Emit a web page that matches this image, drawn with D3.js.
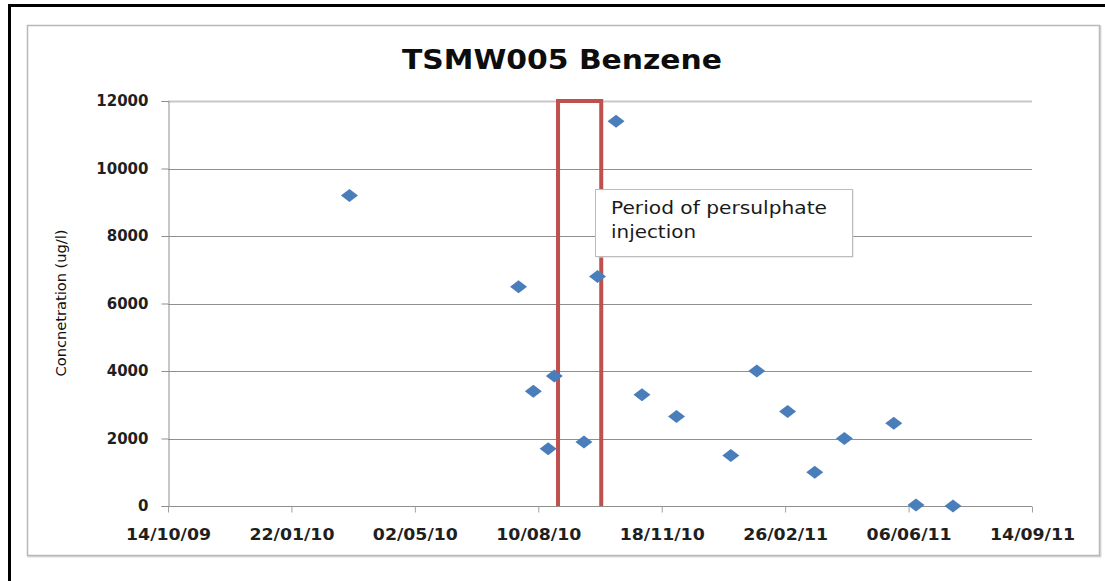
<!DOCTYPE html>
<html>
<head>
<meta charset="utf-8">
<script src="https://cdn.jsdelivr.net/npm/d3@7"></script>
<style>
html,body{margin:0;padding:0;background:#fff;}
svg{display:block;}
</style>
</head>
<body>
<svg id="chart" width="1105" height="581"></svg>
<script>
// ---- data ----
const sampleDates = ["2010-03-10","2010-07-25","2010-08-06","2010-08-18","2010-08-23","2010-09-16","2010-09-27","2010-10-12","2010-11-02","2010-11-30","2011-01-13","2011-02-03","2011-02-28","2011-03-22","2011-04-15","2011-05-25","2011-06-12","2011-07-12"];
const benzene = [9200,6500,3400,1700,3850,1900,6800,11400,3300,2650,1500,4000,2800,1000,2000,2450,30,0];
const xTickDates = ["2009-10-14","2010-01-22","2010-05-02","2010-08-10","2010-11-18","2011-02-26","2011-06-06","2011-09-14"];
const xTickLabels = ["14/10/09","22/01/10","02/05/10","10/08/10","18/11/10","26/02/11","06/06/11","14/09/11"];
const yTicks = [0,2000,4000,6000,8000,10000,12000];
const injectionPeriod = ["2010-08-26","2010-09-30"];
const titleText = "TSMW005 Benzene";
const yTitle = "Concnetration (ug/l)";
const noteLines = ["Period of persulphate","injection"];

const parse = d3.utcParse("%Y-%m-%d");
const svg = d3.select("#chart");

// outer frame
svg.append("line").attr("x1",9.5).attr("x2",9.5).attr("y1",4).attr("y2",581).attr("stroke","#000").attr("stroke-width",3);
svg.append("line").attr("x1",8).attr("x2",1105).attr("y1",5.5).attr("y2",5.5).attr("stroke","#000").attr("stroke-width",3);
// chart area border with slight shadow
svg.append("rect").attr("x",28.5).attr("y",26.5).attr("width",1072).attr("height",530).attr("fill","none").attr("stroke","#d9d9d9").attr("stroke-width",2);
svg.append("rect").attr("x",27.5).attr("y",25.5).attr("width",1072).attr("height",530).attr("fill","#fff").attr("stroke","#b8b8b8").attr("stroke-width",1.5);

const x = d3.scaleUtc().domain([parse(xTickDates[0]), parse(xTickDates[xTickDates.length-1])]).range([168,1032]);
const y = d3.scaleLinear().domain([0,12000]).range([506,101]);

// gridlines
svg.append("g").selectAll("line").data(yTicks.filter(v=>v>0)).join("line")
  .attr("x1",168).attr("x2",1032)
  .attr("y1",d=>Math.round(y(d))+0.5).attr("y2",d=>Math.round(y(d))+0.5)
  .attr("stroke",d=>d===12000?"#c8c8c8":"#8f8f8f").attr("stroke-width",d=>d===12000?2:1.2);

// y axis
const yAxis = d3.axisLeft(y).tickValues(yTicks).tickSize(7).tickPadding(13).tickFormat(d3.format("d"));
const gy = svg.append("g").attr("transform","translate(168.5,0)").call(yAxis);
gy.select(".domain").attr("stroke","#8f8f8f");
gy.selectAll(".tick line").attr("stroke","#8f8f8f");
gy.selectAll("text").attr("font-family","DejaVu Sans").attr("font-weight","bold").attr("font-size",15).attr("fill","#1f1f1f");

// x axis
const xAxis = d3.axisBottom(x).tickValues(xTickDates.map(parse)).tickSize(6).tickPadding(16)
  .tickFormat((d,i)=>xTickLabels[i]);
const gx = svg.append("g").attr("transform","translate(0,506.5)").call(xAxis);
gx.select(".domain").attr("stroke","#8f8f8f").attr("d","M168,0H1032");
gx.selectAll(".tick line").attr("stroke","#a0a0a0");
gx.selectAll("text").attr("font-family","DejaVu Sans").attr("font-weight","bold").attr("font-size",16)
  .attr("textLength",85).attr("lengthAdjust","spacingAndGlyphs").attr("fill","#1f1f1f");

// injection period box (three sides)
const ix0 = x(parse(injectionPeriod[0])), ix1 = x(parse(injectionPeriod[1]));
svg.append("path")
  .attr("d",`M${ix0},${y(0)}V${y(12000)}H${ix1}V${y(0)}`)
  .attr("fill","none").attr("stroke","#c0504d").attr("stroke-width",4);

// points
const diamond = "M0,-6.5L8.5,0L0,6.5L-8.5,0Z";
svg.append("g").selectAll("path").data(sampleDates.map((d,i)=>({d:parse(d),v:benzene[i]}))).join("path")
  .attr("d",diamond)
  .attr("transform",p=>`translate(${x(p.d)},${y(p.v)})`)
  .attr("fill","#4a7ebb");

// annotation
const note = svg.append("g");
note.append("rect").attr("x",596.5).attr("y",190.5).attr("width",257).attr("height",67).attr("fill","#d8d8d8");
note.append("rect").attr("x",595.5).attr("y",189.5).attr("width",257).attr("height",67).attr("fill","#fff").attr("stroke","#bcbcbc").attr("stroke-width",1);
const noteLens = [216, 85];
note.selectAll("text").data(noteLines).join("text")
  .attr("x",611).attr("y",(d,i)=>214+i*24)
  .attr("font-family","DejaVu Sans").attr("font-size",17).attr("fill","#1a1a1a")
  .attr("textLength",(d,i)=>noteLens[i]).attr("lengthAdjust","spacingAndGlyphs")
  .text(d=>d);

// title
svg.append("text").attr("x",562).attr("y",69).attr("text-anchor","middle")
  .attr("font-family","DejaVu Sans").attr("font-weight","bold").attr("font-size",27)
  .attr("textLength",320).attr("lengthAdjust","spacingAndGlyphs")
  .attr("fill","#0d0d0d").text(titleText);

// y title
svg.append("text").attr("transform","translate(66,303) rotate(-90)").attr("text-anchor","middle")
  .attr("font-family","DejaVu Sans Condensed, DejaVu Sans").attr("font-size",14)
  .attr("textLength",147).attr("lengthAdjust","spacingAndGlyphs")
  .attr("fill","#111").text(yTitle);
</script>
</body>
</html>
